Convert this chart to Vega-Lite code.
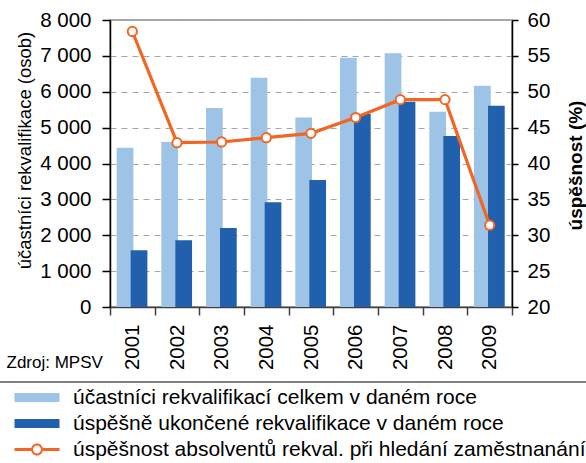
{
  "$schema": "https://vega.github.io/schema/vega-lite/v6.json",
  "width": 402,
  "height": 287,
  "autosize": "none",
  "padding": {"left": 110, "top": 20, "right": 74, "bottom": 156},
  "background": "white",
  "config": {
    "font": "Liberation Sans",
    "view": {"stroke": "#8c8c8c", "strokeWidth": 1.5}
  },
  "data": {
    "values": [
      {"rok": "2001", "ucastnici": 4440, "uspesne": 1580, "uspesnost": 58.4},
      {"rok": "2002", "ucastnici": 4600, "uspesne": 1860, "uspesnost": 42.9},
      {"rok": "2003", "ucastnici": 5550, "uspesne": 2200, "uspesnost": 43.0},
      {"rok": "2004", "ucastnici": 6390, "uspesne": 2920, "uspesnost": 43.6},
      {"rok": "2005", "ucastnici": 5280, "uspesne": 3540, "uspesnost": 44.2},
      {"rok": "2006", "ucastnici": 6950, "uspesne": 5380, "uspesnost": 46.4},
      {"rok": "2007", "ucastnici": 7070, "uspesne": 5720, "uspesnost": 48.9},
      {"rok": "2008", "ucastnici": 5440, "uspesne": 4770, "uspesnost": 48.9},
      {"rok": "2009", "ucastnici": 6170, "uspesne": 5610, "uspesnost": 31.4}
    ]
  },
  "encoding": {
    "x": {
      "field": "rok",
      "type": "ordinal",
      "scale": {"paddingInner": 0, "paddingOuter": 0},
      "axis": {
        "tickBand": "extent",
        "labelAngle": 270,
        "labelFontSize": 20.5,
        "labelColor": "black",
        "labelPadding": 9,
        "tickSize": 8,
        "tickColor": "#404040",
        "tickWidth": 1.5,
        "domainColor": "#404040",
        "domainWidth": 1.5,
        "grid": false,
        "title": "Zdroj: MPSV",
        "titleFontSize": 17,
        "titleFontWeight": "normal",
        "titleColor": "black",
        "titleAngle": 0,
        "titleAlign": "left",
        "titleBaseline": "middle",
        "titleX": -104,
        "titleY": 55
      }
    }
  },
  "layer": [
    {
      "encoding": {
        "y": {
          "type": "quantitative",
          "scale": {"domain": [0, 8000], "nice": false},
          "axis": {
            "values": [0, 1000, 2000, 3000, 4000, 5000, 6000, 7000, 8000],
            "tickCount": 20,
            "labelOverlap": false,
            "labelExpr": "replace(format(datum.value, ','), ',', ' ')",
            "labelFontSize": 20.5,
            "labelColor": "black",
            "labelPadding": 11,
            "tickSize": 8,
            "tickColor": "black",
            "tickWidth": 1.5,
            "domainColor": "black",
            "domainWidth": 1.5,
            "grid": true,
            "gridDash": [6, 5],
            "gridColor": "#a6a6a6",
            "gridWidth": 1.2,
            "title": "účastníci rekvalifikace (osob)",
            "titleFontSize": 18.5,
            "titleFontWeight": "normal",
            "titleColor": "black",
            "titleAngle": 270,
            "titleAlign": "center",
            "titleBaseline": "middle",
            "titleX": -86,
            "titleY": 130
          }
        }
      },
      "layer": [
        {
          "mark": {"type": "bar", "width": 16.7, "xOffset": -7.3},
          "encoding": {
            "y": {"field": "ucastnici"},
            "color": {
              "datum": "účastníci rekvalifikací celkem v daném roce",
              "scale": {
                "domain": [
                  "účastníci rekvalifikací celkem v daném roce",
                  "úspěšně ukončené rekvalifikace v daném roce",
                  "úspěšnost absolventů rekval. při hledání zaměstnanání"
                ],
                "range": ["#9dc3e6", "#2160ad", "#f26522"]
              },
              "legend": {
                "orient": "none",
                "legendX": -130,
                "legendY": 362,
                "title": null,
                "padding": 5,
                "symbolOffset": 41.5,
                "symbolSize": 100,
                "symbolStrokeWidth": 0,
                "labelFontSize": 21,
                "labelColor": "black",
                "labelOffset": 25.5,
                "labelLimit": 800,
                "rowPadding": 4,
                "encode": {
                  "legend": {
                    "update": {
                      "stroke": {"value": "#808080"},
                      "strokeWidth": {"value": 2},
                      "strokeDash": {"value": [1000, 100000]}
                    }
                  },
                  "symbols": {
                    "update": {
                      "shape": {"signal": "datum.index === 2 ? 'M-4.5,-0.32H-1.2V0.32H-4.5Z M1.2,-0.32H4.5V0.32H1.2Z M1.2,0A1.2,1.2,0,1,1,-1.2,0A1.2,1.2,0,1,1,1.2,0Z M0.8,0A0.8,0.8,0,1,0,-0.8,0A0.8,0.8,0,1,0,0.8,0Z' : 'M-4.5,-0.9H4.5V0.9H-4.5Z'"},
                      "strokeWidth": {"value": 0},
                      "opacity": {"value": 1},
                      "fillOpacity": {"value": 1}
                    }
                  }
                }
              }
            }
          }
        },
        {
          "mark": {"type": "bar", "width": 16.7, "xOffset": 6.7},
          "encoding": {
            "y": {"field": "uspesne"},
            "color": {"datum": "úspěšně ukončené rekvalifikace v daném roce"}
          }
        }
      ]
    },
    {
      "encoding": {
        "y": {
          "field": "uspesnost",
          "type": "quantitative",
          "scale": {"domain": [20, 60], "nice": false},
          "axis": {
            "orient": "right",
            "values": [20, 25, 30, 35, 40, 45, 50, 55, 60],
            "tickCount": 20,
            "labelOverlap": false,
            "labelFontSize": 20.5,
            "labelColor": "black",
            "labelPadding": 9,
            "tickSize": 6,
            "tickColor": "black",
            "tickWidth": 1.5,
            "domainColor": "black",
            "domainWidth": 1.5,
            "grid": false,
            "title": "úspěšnost (%)",
            "titleFontSize": 19,
            "titleFontWeight": "bold",
            "titleColor": "black",
            "titleAngle": 270,
            "titleAlign": "center",
            "titleBaseline": "middle",
            "titleX": 63,
            "titleY": 145
          }
        }
      },
      "layer": [
        {
          "mark": {"type": "line", "strokeWidth": 3.2},
          "encoding": {
            "color": {"datum": "úspěšnost absolventů rekval. při hledání zaměstnanání"}
          }
        },
        {
          "mark": {"type": "point", "filled": true, "fill": "white", "stroke": "#f26522", "strokeWidth": 2, "size": 85, "opacity": 1}
        }
      ]
    }
  ],
  "resolve": {"scale": {"y": "independent"}}
}
